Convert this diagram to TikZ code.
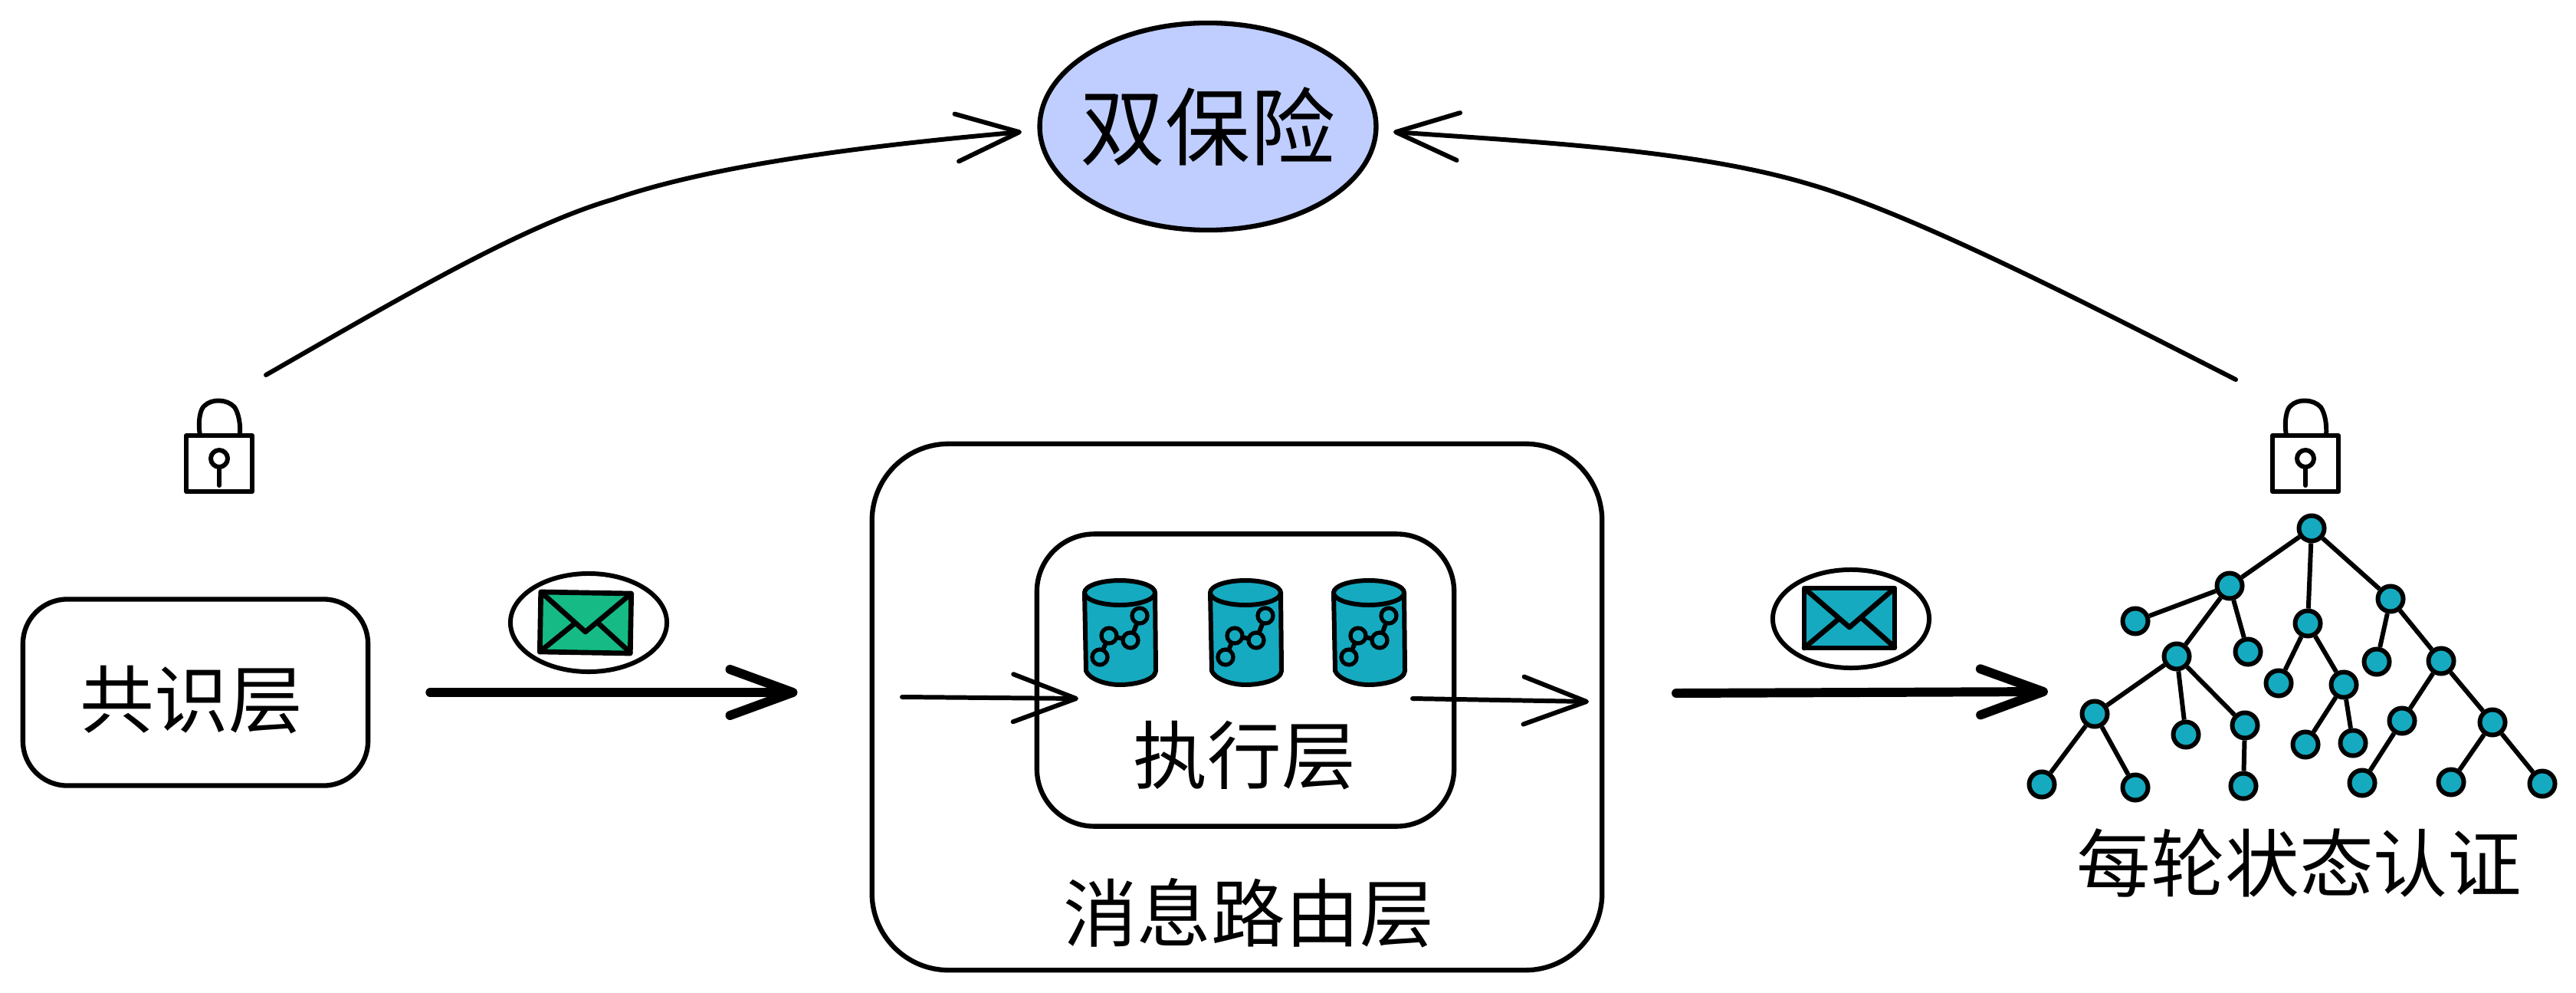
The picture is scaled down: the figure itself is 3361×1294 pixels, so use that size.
\documentclass[tikz,border=0pt]{standalone}
\usepackage{fontspec}
\setmainfont{Noto Sans CJK SC}
\usetikzlibrary{arrows.meta,shapes.geometric}
\definecolor{tealfill}{HTML}{15AABF}
\definecolor{greenfill}{HTML}{15BA85}
\definecolor{bluefill}{HTML}{BFCEFF}
\tikzset{every node/.style={draw=none,inner sep=0pt},
  box/.style={draw,line width=1.8pt,rounded corners=#1},
  boxtext/.style={font=\fontsize{27.5}{30}\selectfont},
  treedot/.style={circle,draw,line width=1.7pt,fill=tealfill,minimum size=.33cm},
  chartdot/.style={circle,draw,line width=1.5pt,fill=tealfill,minimum size=.2cm},
  ring/.style={ellipse,draw,line width=1.7pt,minimum width=2.04cm,minimum height=1.28cm},
  thinline/.style={line width=1.7pt,line cap=round,line join=round},
  barb/.style={thinline,-{Straight Barb[length=.82cm,width=.62cm,round]}},
  bigbarb/.style={line width=3.4pt,line cap=round,line join=round,
    -{Straight Barb[length=.82cm,width=.6cm,round]}},
  pics/padlock/.style={code={
    \draw[thinline] (-25,-37) .. controls (-28,-55) and (-25,-72) .. (-19,-76)
      .. controls (-10,-85) and (10,-85) .. (20,-74)
      .. controls (26,-65) and (28,-50) .. (27,-37);
    \draw[thinline] (-43,-37) rectangle (43,36);
    \draw[thinline] (0,-7) circle (.11cm);
    \draw[thinline] (0,4) -- (0,28);
  }},
  pics/envelope/.style={code={
    \draw[line width=1.9pt,line join=round,fill=#1] (-59,-39) rectangle (59,39);
    \draw[line width=1.9pt,line join=round] (-59,-39) -- (0,12) -- (59,-39);
    \draw[line width=1.9pt,line cap=round] (-59,39) -- (-15,2);
    \draw[line width=1.9pt,line cap=round] (59,38) -- (16,0);
  }},
  pics/cylinder/.style={code={
    \draw[thinline,fill=tealfill] (-46,0) -- (-44,102) .. controls (-40,112) and (-20,120) .. (0,120)
      .. controls (20,120) and (46,114) .. (47,102) -- (46,0);
    \draw[thinline,fill=tealfill] (0,0) ellipse [x radius=.46cm,y radius=.16cm];
    \node[chartdot] (a) at (-26,84) {};
    \node[chartdot] (b) at (-14,56) {};
    \node[chartdot] (c) at (14,62) {};
    \node[chartdot] (d) at (26,30) {};
    \draw[thinline] (a) -- (b) -- (c) -- (d);
  }}}

\begin{document}
\begin{tikzpicture}[x=.01cm,y=-.01cm]
\useasboundingbox (0,0) rectangle (3361,1294);

% top of the picture
\node[ellipse,draw,line width=1.8pt,fill=bluefill,minimum width=4.36cm,minimum height=2.7cm,
  inner xsep=-.11cm,font=\fontsize{31.5}{34}\selectfont] (shield) at (1576,165) {双保险};
\coordinate (leftfrom) at (347,489);
\coordinate (leftto) at (1333,172);
\coordinate (rightfrom) at (2917,495);
\coordinate (rightto) at (1818,172);
\draw[barb] (leftfrom) .. controls (520,390) and (680,295) .. (800,260)
  .. controls (930,215) and (1130,190) .. (leftto);
\draw[barb] (rightfrom) .. controls (2740,405) and (2500,280) .. (2360,240)
  .. controls (2210,195) and (2000,185) .. (rightto);

\pic at (286,605) {padlock};
\pic at (3008,605) {padlock};

% layers
\node[box=.58cm,minimum width=4.5cm,minimum height=2.43cm] (consensus) at (255,903) {};
\node[boxtext] (consensustext) at (250,913) {共识层};
\node[box=1cm,minimum width=9.52cm,minimum height=6.86cm] (router) at (1614,922) {};
\node[boxtext] (routertext) at (1629,1191) {消息路由层};
\node[box=.75cm,minimum width=5.44cm,minimum height=3.81cm] (exec) at (1625,887) {};
\node[boxtext] (exectext) at (1624,985) {执行层};

\pic at (1461,773) {cylinder};
\pic at (1625,773) {cylinder};
\pic at (1786,773) {cylinder};

% arrows between the layers
\draw[bigbarb,shorten <=.78cm,shorten >=.94cm] (consensus.east) -- (consensus.east -| router.west);
\coordinate (proofto) at (2672,902);
\coordinate (prooffrom) at (2187,904);
\draw[bigbarb] (prooffrom) -- (proofto);
\coordinate (execinfrom) at (1177,909);
\coordinate (execinto) at (1407,911);
\coordinate (execoutfrom) at (1843,911);
\coordinate (execoutto) at (2073,915);
\draw[barb] (execinfrom) -- (execinto);
\draw[barb] (execoutfrom) -- (execoutto);

% messages
\node[ring] (msgleft) at (768,812) {};
\pic[rotate=-1] at (764,812) {envelope=greenfill};
\node[ring] (msgright) at (2415,807) {};
\pic at (2413,806) {envelope=tealfill};

% state tree
\node[treedot] (r) at (3016,689) {};
\node[treedot] (a) at (2909,764) {};
\node[treedot] (b) at (2786,810) {};
\node[treedot] (c) at (2933,850) {};
\node[treedot] (d) at (2840,856) {};
\node[treedot] (e) at (2733,931) {};
\node[treedot] (f) at (2664,1023) {};
\node[treedot] (g) at (2786,1027) {};
\node[treedot] (h) at (2852,958) {};
\node[treedot] (i) at (2929,946) {};
\node[treedot] (j) at (2927,1025) {};
\node[treedot] (k) at (3011,813) {};
\node[treedot] (l) at (2973,891) {};
\node[treedot] (m) at (3058,893) {};
\node[treedot] (n) at (3008,971) {};
\node[treedot] (o) at (3070,969) {};
\node[treedot] (p) at (3119,781) {};
\node[treedot] (q) at (3101,863) {};
\node[treedot] (s) at (3185,862) {};
\node[treedot] (t) at (3134,940) {};
\node[treedot] (u) at (3252,942) {};
\node[treedot] (v) at (3082,1021) {};
\node[treedot] (w) at (3198,1020) {};
\node[treedot] (x) at (3317,1022) {};

\foreach \a/\b in {r/a,r/k,r/p,a/b,a/c,a/d,d/e,d/h,d/i,e/f,e/g,i/j,k/l,k/m,m/n,m/o,p/q,p/s,s/t,s/u,t/v,u/w,u/x}
  \draw[line width=1.7pt] (\a) -- (\b);

\node[boxtext] (treetext) at (3000,1125) {每轮状态认证};
\end{tikzpicture}
\end{document}
